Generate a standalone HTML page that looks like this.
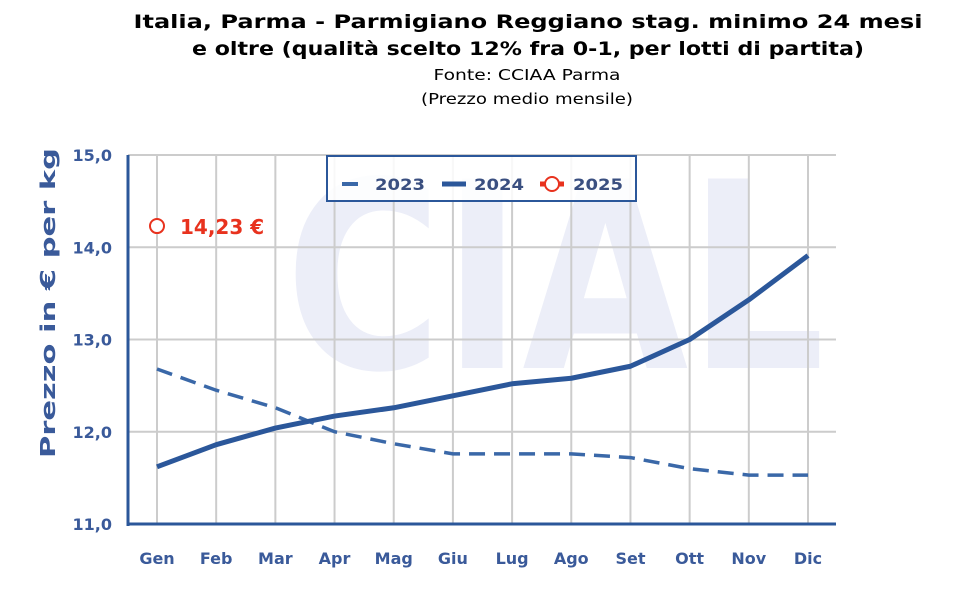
<!DOCTYPE html>
<html><head><meta charset="utf-8"><style>
body{margin:0;background:#fff;font-family:"DejaVu Sans","Liberation Sans",sans-serif;}
svg{display:block}
</style></head><body>
<svg width="956" height="596" viewBox="0 0 956 596" font-family="DejaVu Sans, Liberation Sans, sans-serif">
<text x="528" y="28" text-anchor="middle" font-weight="bold" font-size="19" fill="#000" textLength="789" lengthAdjust="spacingAndGlyphs">Italia, Parma - Parmigiano Reggiano stag. minimo 24 mesi</text>
<text x="528" y="55" text-anchor="middle" font-weight="bold" font-size="19" fill="#000" textLength="672" lengthAdjust="spacingAndGlyphs">e oltre (qualità scelto 12% fra 0-1, per lotti di partita)</text>
<text x="527" y="80" text-anchor="middle" font-size="15" fill="#000" textLength="187" lengthAdjust="spacingAndGlyphs">Fonte: CCIAA Parma</text>
<text x="527" y="104" text-anchor="middle" font-size="15" fill="#000" textLength="212" lengthAdjust="spacingAndGlyphs">(Prezzo medio mensile)</text>
<text x="555" y="368" text-anchor="middle" font-weight="bold" font-size="260" fill="#eceef8" textLength="540" lengthAdjust="spacingAndGlyphs">CIAL</text>
<g id="grid"></g>
<g id="axes"></g>
<g id="series"></g>
<text transform="translate(55,303) rotate(-90)" text-anchor="middle" font-weight="bold" font-size="20" fill="#3a5a9a" textLength="310" lengthAdjust="spacingAndGlyphs">Prezzo in € per kg</text>
<g>
<rect x="327" y="156" width="309" height="45" fill="#fff" fill-opacity="0.85" stroke="#2b579a" stroke-width="2"/>
<g><line x1="342" y1="184" x2="358" y2="184" stroke="#3a68a8" stroke-width="4"/><text x="375" y="190" font-weight="bold" font-size="16" fill="#3a4f80" textLength="50" lengthAdjust="spacingAndGlyphs">2023</text></g>
<g><line x1="442" y1="184" x2="466" y2="184" stroke="#2b579a" stroke-width="5"/><text x="474" y="190" font-weight="bold" font-size="16" fill="#3a4f80" textLength="50" lengthAdjust="spacingAndGlyphs">2024</text></g>
<g><line x1="540" y1="184" x2="564" y2="184" stroke="#e8321e" stroke-width="5"/><circle cx="552" cy="184" r="7" fill="#fff" stroke="#e8321e" stroke-width="2"/><text x="573" y="190" font-weight="bold" font-size="16" fill="#3a4f80" textLength="50" lengthAdjust="spacingAndGlyphs">2025</text></g>
</g>
</svg>
<script>
const categories=["Gen","Feb","Mar","Apr","Mag","Giu","Lug","Ago","Set","Ott","Nov","Dic"];
const values2023=[12.68,12.45,12.26,12.0,11.87,11.76,11.76,11.76,11.72,11.6,11.53,11.53];
const values2024=[11.62,11.86,12.04,12.17,12.26,12.39,12.52,12.58,12.71,13.0,13.43,13.91];
const values2025=[14.23];
const label2025=["14,23 €"];
const yTicks=[11,12,13,15,14];
const yTickLabels=["11,0","12,0","13,0","15,0","14,0"];
const NS="http://www.w3.org/2000/svg";
const x0=157,x1=808,yTop=155,yBot=524,yMin=11,yMax=15;
const X=i=>x0+i*(x1-x0)/(categories.length-1);
const Y=v=>yBot-(v-yMin)*(yBot-yTop)/(yMax-yMin);
function mk(t,a,p){const e=document.createElementNS(NS,t);for(const k in a)e.setAttribute(k,a[k]);p.appendChild(e);return e;}
const grid=document.getElementById('grid'),axes=document.getElementById('axes'),ser=document.getElementById('series');
categories.forEach((c,i)=>{
 const l=mk('line',{x1:X(i),x2:X(i),y1:yTop,y2:yBot,stroke:'#cccccc','stroke-width':2},grid);
 
 
 const t=mk('text',{x:X(i),y:564,'text-anchor':'middle','font-weight':'bold','font-size':16,fill:'#3a5a9a'},axes);
 t.textContent=c;
 
 
});
yTicks.forEach((v,i)=>{
 const l=mk('line',{x1:128,x2:836,y1:Y(v),y2:Y(v),stroke:'#cccccc','stroke-width':2},grid);
 
 
 const t=mk('text',{x:112,y:Y(v)+6,'text-anchor':'end','font-weight':'bold','font-size':16,fill:'#3a5a9a'},axes);
 t.textContent=yTickLabels[i];
 
 
});
const ya=mk('line',{x1:128,x2:128,y1:yTop,y2:yBot+2,stroke:'#2b579a','stroke-width':3},axes);


const xa=mk('line',{x1:127,x2:836,y1:yBot,y2:yBot,stroke:'#2b579a','stroke-width':3},axes);


const pts=a=>a.map((v,i)=>X(i)+','+Y(v)).join(' ');
const l23=mk('polyline',{points:pts(values2023),fill:'none',stroke:'#3a68a8','stroke-width':3.5,'stroke-dasharray':'16,9'},ser);


const l24=mk('polyline',{points:pts(values2024),fill:'none',stroke:'#2b579a','stroke-width':5,'stroke-linejoin':'round'},ser);


values2025.forEach((v,i)=>{
 const c=mk('circle',{cx:X(i),cy:Y(v),r:7,fill:'#fff',stroke:'#e8321e','stroke-width':2},ser);
 
 
 const t=mk('text',{x:X(i)+23,y:Y(v)+8,'font-weight':'bold','font-size':20,fill:'#e8321e'},ser);
 t.textContent=label2025[i];
 
 
});
</script>
</body></html>
